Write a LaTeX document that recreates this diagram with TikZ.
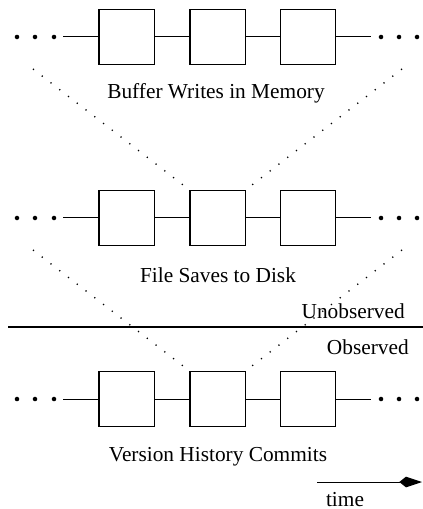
\documentclass[tikz,border=0pt]{standalone}
\usepackage{fontspec}
\setmainfont{Liberation Serif}
\usetikzlibrary{arrows.meta}
\tikzset{
	evt/.style={draw,line width=1pt,minimum width=41.5pt,minimum height=41.5pt,inner sep=0pt},
	dot/.style={circle,fill,inner sep=0pt,minimum size=3.4pt},
	link/.style={line width=0.75pt},
	obs/.style={line width=1pt,dash pattern=on 0.9pt off 7.4pt},
	lbl/.style={font=\fontsize{16}{19}\selectfont}
}
\begin{document}
\begin{tikzpicture}[x=0.75pt,y=-0.75pt]
	\useasboundingbox (0,0) rectangle (423,509);
	% three rows of events
	\foreach \r/\y in {a/37,b/218,c/399}{
		\foreach \i/\x in {1/126.5,2/217.5,3/308}
			\node[evt] (\r\i) at (\x,\y) {};
		\foreach \i/\x in {1/17,2/35,3/54,4/381,5/399,6/417}
			\node[dot] (\r d\i) at (\x,\y) {};
		\coordinate (\r l) at (63,\y);
		\coordinate (\r r) at (371,\y);
		\draw[link] (\r l) -- (\r1) -- (\r2) -- (\r3) -- (\r r);
	}
	% labels
	\node[lbl] (mem) at (216,93) {Buffer Writes in Memory};
	\node[lbl] (disk) at (218,275) {File Saves to Disk};
	\node[lbl] (vcs) at (218,457) {Version History Commits};
	% projections
	\coordinate (al) at (33,69); \coordinate (ar) at (402,69);
	\coordinate (bl) at (33,250); \coordinate (br) at (402,250);
	\draw[obs] (al) -- (b2.north west);
	\draw[obs] (ar) -- (b2.north east);
	\draw[obs] (bl) -- (c2.north west);
	\draw[obs] (br) -- (c2.north east);
	% observation boundary
	\coordinate (s0) at (8,327); \coordinate (s1) at (423,327);
	\draw[line width=2pt] (s0) -- (s1);
	\node[lbl,anchor=base east,inner sep=0pt] (unobs) at (405,318) {Unobserved};
	\node[lbl,anchor=base east,inner sep=0pt] (obsv) at (409,354) {Observed};
	% time arrow
	\coordinate (t0) at (317,482); \coordinate (t1) at (422,482);
	\draw[link,-{Kite[length=17pt,width=8pt,inset=5pt]}] (t0) -- (t1);
	\node[lbl,anchor=base,inner sep=0pt] (time) at (345,506) {time};
\end{tikzpicture}
\end{document}
